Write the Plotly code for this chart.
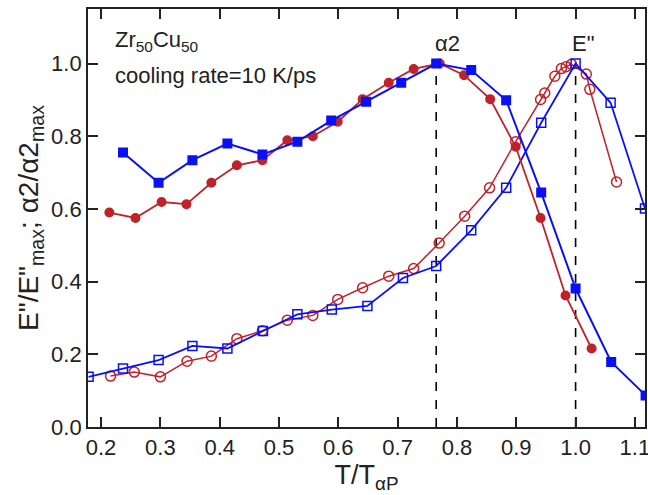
import plotly.graph_objects as go

# alpha2 (filled symbols)
blue_a2_x = [0.237, 0.297, 0.354, 0.413, 0.472, 0.531, 0.588, 0.647, 0.706, 0.765, 0.824, 0.883, 0.942, 1.000, 1.060, 1.118]
blue_a2_y = [0.755, 0.672, 0.734, 0.780, 0.750, 0.785, 0.843, 0.895, 0.947, 1.000, 0.982, 0.899, 0.645, 0.381, 0.179, 0.087]

red_a2_x = [0.214, 0.258, 0.302, 0.344, 0.386, 0.429, 0.472, 0.514, 0.557, 0.599, 0.641, 0.685, 0.727, 0.771, 0.812, 0.856, 0.899, 0.941, 0.983, 1.027]
red_a2_y = [0.590, 0.575, 0.619, 0.613, 0.672, 0.720, 0.734, 0.789, 0.800, 0.840, 0.902, 0.947, 0.985, 1.000, 0.968, 0.902, 0.771, 0.575, 0.362, 0.216]

# E'' (open symbols)
blue_e_x = [0.179, 0.237, 0.297, 0.354, 0.413, 0.473, 0.531, 0.589, 0.649, 0.709, 0.765, 0.824, 0.883, 0.942, 1.000, 1.059, 1.117]
blue_e_y = [0.138, 0.161, 0.184, 0.223, 0.216, 0.264, 0.310, 0.323, 0.333, 0.410, 0.443, 0.541, 0.658, 0.837, 1.000, 0.892, 0.601]

red_e_x = [0.216, 0.256, 0.300, 0.345, 0.386, 0.429, 0.472, 0.514, 0.557, 0.599, 0.641, 0.685, 0.727, 0.770, 0.813, 0.855, 0.899, 0.941, 0.948, 0.965, 0.976, 0.984, 0.993, 1.018, 1.024, 1.069]
red_e_y = [0.140, 0.151, 0.138, 0.181, 0.195, 0.243, 0.265, 0.294, 0.307, 0.351, 0.383, 0.415, 0.436, 0.506, 0.580, 0.658, 0.785, 0.901, 0.919, 0.965, 0.986, 0.991, 0.998, 0.971, 0.929, 0.674]

peak_x = [0.765, 1.0]
peak_labels = ["α2", 'E"']
peak_label_x = [0.784, 1.012]

x_ticks = [0.2, 0.3, 0.4, 0.5, 0.6, 0.7, 0.8, 0.9, 1.0, 1.1]
y_ticks = [0.0, 0.2, 0.4, 0.6, 0.8, 1.0]

BLUE = "#0A10F5"
RED = "#C0222A"
TXT = "#222"
FONT = "Liberation Sans, Arial, sans-serif"

fig = go.Figure()

# peak marker lines
for px in peak_x:
    fig.add_shape(type="line", xref="x", yref="y", x0=px, x1=px, y0=0, y1=1.0,
                  line=dict(color="black", width=1.6, dash="dash"), layer="below")

def add(x, y, color, symbol, width=1.8, size=9):
    fig.add_trace(go.Scatter(
        x=x, y=y, mode="lines+markers", cliponaxis=True,
        line=dict(color=color, width=width),
        marker=dict(symbol=symbol, size=size, color=color,
                    line=dict(color=color, width=1.5)),
        showlegend=False))

add(red_e_x, red_e_y, RED, "circle-open", width=1.5, size=10)
add(blue_e_x, blue_e_y, BLUE, "square-open", width=1.8, size=9)
add(red_a2_x, red_a2_y, RED, "circle", width=1.8, size=8.5)
add(blue_a2_x, blue_a2_y, BLUE, "square", width=2.0, size=8.5)

for lx, lab in zip(peak_label_x, peak_labels):
    fig.add_annotation(x=lx, y=1.056, xref="x", yref="y", text=lab, showarrow=False,
                       xanchor="center", yanchor="middle",
                       font=dict(family=FONT, size=22, color=TXT))

fig.add_annotation(x=0.22, y=1.062, xref="x", yref="y", xanchor="left", yanchor="middle",
                   text="Zr<sub>50</sub>Cu<sub>50</sub>", showarrow=False,
                   font=dict(family=FONT, size=22, color=TXT))
fig.add_annotation(x=0.22, y=0.968, xref="x", yref="y", xanchor="left", yanchor="middle",
                   text="cooling rate=10 K/ps", showarrow=False,
                   font=dict(family=FONT, size=22, color=TXT))

axis_common = dict(showgrid=False, zeroline=False, showline=True, linecolor=TXT,
                   linewidth=1.8, mirror="allticks", ticks="inside", ticklen=10,
                   tickwidth=1.6, tickcolor=TXT, automargin=False,
                   ticklabeloverflow="allow",
                   tickfont=dict(family=FONT, size=22, color=TXT))

fig.update_layout(
    width=648, height=495,
    margin=dict(l=88, r=3, t=9, b=68),
    plot_bgcolor="white", paper_bgcolor="white",
    xaxis=dict(range=[0.178, 1.117], tickvals=x_ticks,
               ticktext=[f"{v:.1f}" for v in x_ticks],
               title=dict(text="T/T<sub>αP</sub>", font=dict(family=FONT, size=27, color=TXT),
                          standoff=2),
               **axis_common),
    yaxis=dict(range=[0, 1.15], tickvals=y_ticks,
               ticktext=[f"{v:.1f}" for v in y_ticks],
               title=dict(text='E"/E"<sub>max</sub>; α2/α2<sub>max</sub>',
                          font=dict(family=FONT, size=28, color=TXT), standoff=4),
               **axis_common),
)

fig.write_html("out.html")
